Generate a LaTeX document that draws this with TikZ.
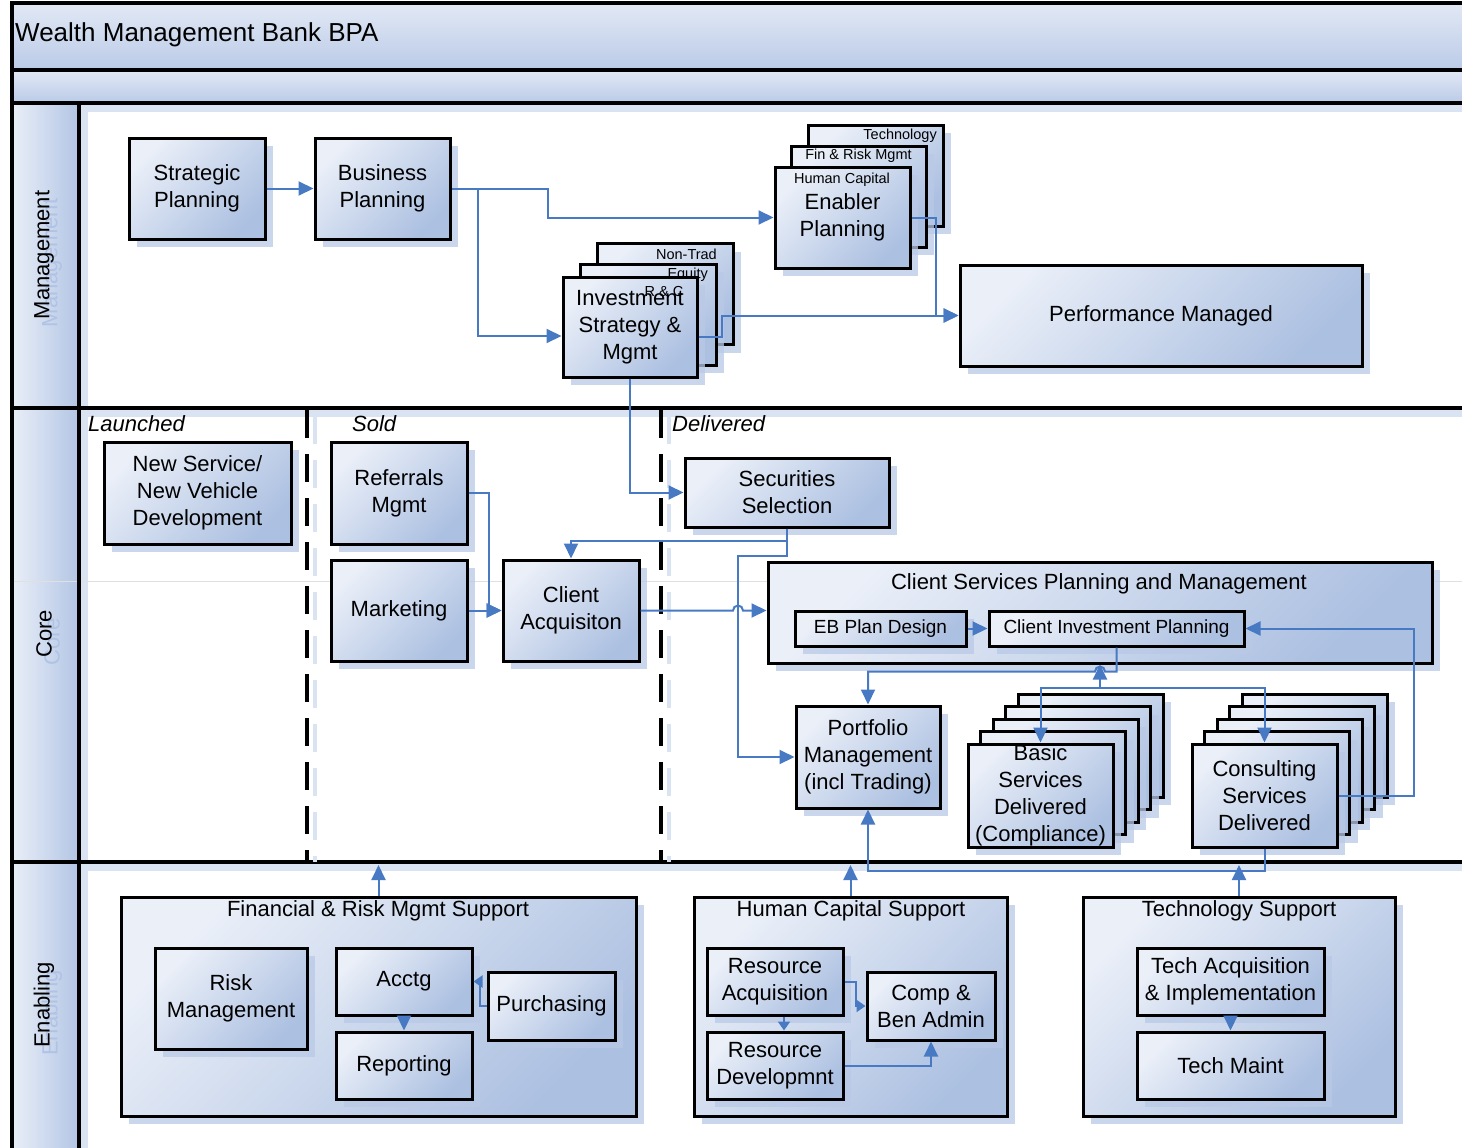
\documentclass[tikz,border=0pt]{standalone}
\usepackage{fontspec}
\setmainfont{Liberation Sans}
\usetikzlibrary{arrows.meta,shadows,calc}

\definecolor{boxlight}{RGB}{234,239,248}
\definecolor{boxdark}{RGB}{172,192,225}
\definecolor{shadowc}{RGB}{185,201,230}
\definecolor{linkc}{RGB}{72,122,196}
\definecolor{stripc}{RGB}{218,227,242}
\definecolor{ghostc}{RGB}{176,195,229}
\definecolor{barlight}{RGB}{226,233,245}
\definecolor{bardark}{RGB}{186,202,231}
\definecolor{hdlight}{RGB}{234,239,248}
\definecolor{hddark}{RGB}{178,197,228}

\newcommand\fsmain{\fontsize{22}{27}\selectfont}
\newcommand\fssmall{\fontsize{14.5}{17}\selectfont}
\newcommand\fsmid{\fontsize{19}{23}\selectfont}
\newcommand\fstitle{\fontsize{26}{31}\selectfont}

\tikzset{
  procbox/.style={draw=black, line width=3pt, rectangle, inner sep=0pt, align=center,
    top color=boxlight, bottom color=boxdark, shading angle=45, font=\fsmain,
    drop shadow={shadow xshift=8pt, shadow yshift=-8pt, fill=shadowc, opacity=0.75}},
  link/.style={draw=linkc, line width=2pt, -{Triangle[length=15pt,width=14pt]}},
  shortlink/.style={draw=linkc, line width=2pt, -{Triangle[length=9pt,width=12pt]}},
  lanerule/.style={draw=black, line width=3.5pt},
  phase/.style={font=\fsmain\itshape, anchor=west, inner sep=0pt},
  smalltxt/.style={font=\fssmall, inner sep=0pt},
  lanelabel/.style={font=\fsmain, rotate=90, inner sep=0pt},
  ghost/.style={font=\fsmain, rotate=90, inner sep=0pt, text=ghostc},
  separator/.style={draw=black, line width=3.5pt, dash pattern=on 28pt off 16pt},
  separatorshade/.style={draw=stripc, line width=3.5pt, dash pattern=on 28pt off 16pt},
}

\begin{document}
\begin{tikzpicture}[x=1pt, y=-1pt]
\useasboundingbox (0,0) rectangle (1462,1148);
\clip (0,0) rectangle (1462,1148);
\fill[white] (0,0) rectangle (1462,1148);

% ---------- pool frame ----------
\shade[top color=barlight, bottom color=bardark] (12,3) rectangle (1475,70);
\shade[top color=barlight, bottom color=bardark] (12,70) rectangle (1475,103);
\node[anchor=west, font=\fstitle, inner sep=0pt] (title) at (15,35) {Wealth Management Bank BPA};

\foreach \ya/\yb in {103/408, 408/862, 862/1160}
  \shade[left color=hdlight, right color=hddark] (12,\ya) rectangle (79,\yb);
\foreach \ya/\yb in {103/408, 408/862, 862/1160} {
  \fill[stripc] (81,\ya+2) rectangle (88,\yb);
  \fill[stripc] (81,\ya+2) rectangle (1475,\ya+9);
}
\draw[black!12, line width=0.7pt] (12,581) -- (1475,581);

\draw[lanerule] (12,1160) -- (12,3) -- (1475,3);
\draw[lanerule] (12,70) -- (1475,70);
\draw[lanerule] (12,103) -- (1475,103);
\draw[lanerule] (12,408) -- (1475,408);
\draw[lanerule] (12,862) -- (1475,862);
\draw[lanerule] (79,103) -- (79,1160);

% lane labels with their soft shadow
\node[ghost] (ghM) at (52,263) {Management};
\node[lanelabel] (laneM) at (44,255) {Management};
\node[ghost] (ghC) at (52,642) {Core};
\node[lanelabel] (laneC) at (44,634) {Core};
\node[ghost] (ghE) at (52,1013) {Enabling};
\node[lanelabel] (laneE) at (44,1005) {Enabling};

% phase separators in the core lane
\draw[separatorshade] (315,416) -- (315,862);
\draw[separatorshade] (669,416) -- (669,862);
\draw[separator] (307,410) -- (307,862);
\draw[separator] (661,410) -- (661,862);
\node[phase] (phL) at (88,424) {Launched};
\node[phase] (phS) at (352,424) {Sold};
\node[phase] (phD) at (672,424) {Delivered};

% ---------- management lane ----------
\node[procbox, minimum width=136pt, minimum height=101pt] (sp) at (197,188.5) {Strategic\\Planning};
\node[procbox, minimum width=135pt, minimum height=101pt] (bp) at (382.5,188.5) {Business\\Planning};

\node[procbox, minimum width=135pt, minimum height=101pt] (enT) at (875.5,175.5) {};
\node[smalltxt, anchor=east] (enTl) at (937,136) {Technology};
\node[procbox, minimum width=135pt, minimum height=101pt] (enF) at (858.5,196.5) {};
\node[smalltxt] (enFl) at (858.5,156) {Fin \& Risk Mgmt};
\node[procbox, minimum width=135pt, minimum height=101pt] (enH) at (842.5,217.5) {Enabler\\Planning};
\node[smalltxt] (enHl) at (842,180) {Human Capital};

\node[procbox, minimum width=136pt, minimum height=101pt] (isN) at (665,294) {};
\node[smalltxt, anchor=east] (isNl) at (717,254) {Non-Trad};
\node[procbox, minimum width=136pt, minimum height=101pt] (isE) at (648,314.5) {};
\node[smalltxt, anchor=east] (isEl) at (708,275) {Equity};
\node[procbox, minimum width=134pt, minimum height=100pt] (isR) at (630,327) {};
\node[smalltxt] (isRl) at (664,292) {R \& C};
\node[font=\fsmain, align=center, inner sep=0pt] (isRt) at (630,327) {Investment\\Strategy \&\\Mgmt};

\node[procbox, minimum width=402pt, minimum height=101pt] (pm) at (1161,315.5) {Performance Managed};

% ---------- core lane ----------
\node[procbox, minimum width=187pt, minimum height=102pt] (nsd) at (197.5,493) {New Service/\\New Vehicle\\Development};
\node[procbox, minimum width=136pt, minimum height=102pt] (ref) at (399,493) {Referrals\\Mgmt};
\node[procbox, minimum width=136pt, minimum height=101pt] (mkt) at (399,610.5) {Marketing};
\node[procbox, minimum width=136pt, minimum height=101pt] (ca) at (571,610.5) {Client\\Acquisiton};
\node[procbox, minimum width=204pt, minimum height=69pt] (ss) at (787,492.5) {Securities\\Selection};

\node[procbox, minimum width=664pt, minimum height=101pt] (csp) at (1100,612.5) {};
\node[font=\fsmain, inner sep=0pt] (csptitle) at (1099,584) {Client Services Planning and Management};
\node[procbox, font=\fsmid, minimum width=171pt, minimum height=35pt] (ebp) at (880.5,628.5) {EB Plan Design};
\node[procbox, font=\fsmid, minimum width=255pt, minimum height=35pt] (cip) at (1116.5,628.5) {Client Investment Planning};

\node[procbox, minimum width=144pt, minimum height=102pt] (port) at (868,757) {Portfolio\\Management\\(incl Trading)};

\foreach \k in {4,3,2,1}
  \node[procbox, minimum width=145pt, minimum height=103pt] (bs\k) at (1040.5+12.5*\k, 795.5-12.5*\k) {};
\node[procbox, minimum width=145pt, minimum height=103pt] (bs0) at (1040.5,795.5) {Basic\\Services\\Delivered\\(Compliance)};

\foreach \k in {4,3,2,1}
  \node[procbox, minimum width=145pt, minimum height=103pt] (cs\k) at (1264.5+12.5*\k, 795.5-12.5*\k) {};
\node[procbox, minimum width=145pt, minimum height=103pt] (cs0) at (1264.5,795.5) {Consulting\\Services\\Delivered};

% ---------- enabling lane ----------
\node[procbox, minimum width=515pt, minimum height=219pt] (frs) at (378.5,1006.5) {};
\node[font=\fsmain, inner sep=0pt] (frst) at (378,911) {Financial \& Risk Mgmt Support};
\node[procbox, minimum width=152pt, minimum height=101pt] (rm) at (231,998.5) {Risk\\Management};
\node[procbox, minimum width=136pt, minimum height=67pt] (acc) at (404,981.5) {Acctg};
\node[procbox, minimum width=136pt, minimum height=67pt] (rep) at (404,1065.5) {Reporting};
\node[procbox, minimum width=127pt, minimum height=68pt] (pur) at (551.5,1006) {Purchasing};

\node[procbox, minimum width=313pt, minimum height=219pt] (hcs) at (850.5,1006.5) {};
\node[font=\fsmain, inner sep=0pt] (hcst) at (851,911) {Human Capital Support};
\node[procbox, minimum width=136pt, minimum height=67pt] (ra) at (775,981.5) {Resource\\Acquisition};
\node[procbox, minimum width=136pt, minimum height=67pt] (rd) at (775,1065.5) {Resource\\Developmnt};
\node[procbox, minimum width=128pt, minimum height=68pt] (cb) at (931,1006) {Comp \&\\Ben Admin};

\node[procbox, minimum width=312pt, minimum height=219pt] (ts) at (1239,1006.5) {};
\node[font=\fsmain, inner sep=0pt] (tst) at (1239,911) {Technology Support};
\node[procbox, minimum width=187pt, minimum height=67pt] (ta) at (1230.5,981.5) {Tech Acquisition\\\& Implementation};
\node[procbox, minimum width=187pt, minimum height=67pt] (tm) at (1230.5,1065.5) {Tech Maint};

% ---------- connectors ----------
\draw[link] (sp.east) -- (bp.west);
\draw[link] (bp.east) -- ++(96,0) |- (enH.west);
\draw[link] (bp.east) -- ++(26,0) |- ($(isR.west)+(0,9)$);
\draw[link] (enH.east) -- ++(24,0) |- (pm.west);
\draw[link] ($(isR.east)+(0,10)$) -- ++(23,0) |- (pm.west);
\draw[link] (isR.south) |- (ss.west);

\draw[link] (ref.east) -- ++(20,0) |- (ca.west);
\draw[link] (mkt.east) -- (ca.west);
\draw[link] (ss.south) -- ++(0,12) -| (ca.north);
\draw[link] (ss.south) -- ++(0,27) -- ++(-49,0) |- (port.west);
\draw[link] (ca.east) -- ++(92.5,0) arc[start angle=180, end angle=0, radius=5pt] -- (ca.east -| csp.west);

\draw[link] (ebp.east) -- (cip.west);
\draw[link] (cip.south) -- ++(0,24) -- ++(-11.5,0) arc[start angle=0, end angle=180, radius=5pt] -| (port.north);
\coordinate (jn) at (1100,688);
\draw[link] (jn) -- (jn |- csp.south);
\draw[link] (jn) -| (bs0.north);
\draw[link] (jn) -| (cs0.north);
\draw[link] (cs0.east) -- ++(75,0) |- (cip.east);
\draw[link] (cs0.south) -- ++(0,22) -| (port.south);

\draw[link] (acc.south) -- (rep.north);
\draw[shortlink] (pur.west) -- ++(-7,0) |- (acc.east);
\draw[shortlink] (ra.east) -- ++(11,0) |- (cb.west);
\draw[shortlink] ([xshift=9pt]ra.south) -- ([xshift=9pt]rd.north);
\draw[link] (rd.east) -| (cb.south);
\draw[link] (ta.south) -- (tm.north);

\coordinate (frsUp) at (378.5,865);
\coordinate (hcsUp) at (850.5,865);
\coordinate (tsUp) at (1239,865);
\draw[link] (frs.north) -- (frsUp);
\draw[link] (hcs.north) -- (hcsUp);
\draw[link] (ts.north) -- (tsUp);
\end{tikzpicture}
\end{document}
